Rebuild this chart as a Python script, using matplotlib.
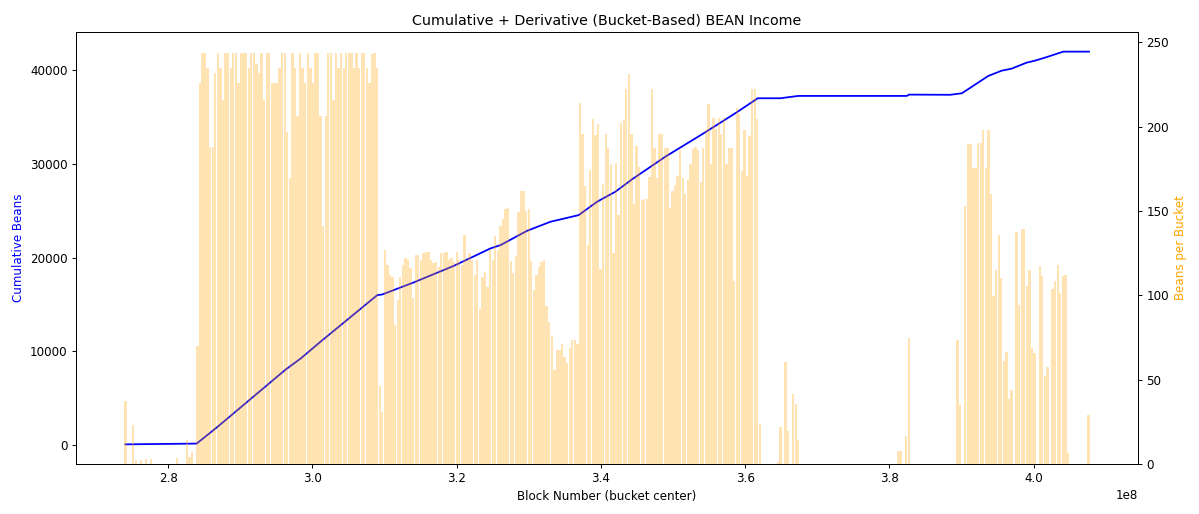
import numpy as np
import matplotlib
matplotlib.use("Agg")
import matplotlib.pyplot as plt

# Buckets of block numbers
bucket_start = 2.741e8   # center of first bucket
bucket_size = 3.56e5

# Beans per bucket (one value per bucket)
beans_per_bucket = (
    [37.6, 0, 0, 23, 2.4, 0, 2.4, 0, 3, 0, 3, 0, 0, 0, 0, 0, 0, 0, 0, 0,
     3.5, 0, 0, 0, 14, 4.4, 7.3, 0, 70, 226]
    + [244, 244, 235, 188, 188, 232, 244, 235, 216, 244, 244, 235, 244, 244,
       226, 244, 244, 244, 235, 244, 244, 237, 232, 244, 216, 244, 244, 226,
       226, 226, 235, 244, 244]
    + [197, 169.6, 244, 235, 206.6, 244, 235, 226, 244, 235, 226, 244, 244,
       206.6, 141, 206.6, 244, 244, 216, 244, 235, 244, 235, 244, 244, 244,
       235, 244, 235, 244, 244, 235, 226, 243, 244, 235]
    + [46, 31, 126.7, 118, 112, 111, 82.5, 97, 111, 118, 122, 121, 116.5,
       98.5, 124, 124, 121, 125, 125.7, 125.7, 121, 119, 120, 117, 125, 125,
       125.7, 121]
    + [122, 120, 126, 121, 118, 136, 121, 125, 121, 112, 121, 91.8, 111, 114,
       105, 126.7, 121, 135, 127, 141, 145, 151.4, 151.7, 120.5, 113, 123.5,
       149.6, 162, 162, 149.8, 151, 120.5, 103, 112, 116.8, 120, 121, 93.4,
       84, 76, 55.8, 67.7, 67.7, 71.3, 63.7, 59.8, 68.7, 73.6, 73.3, 71.3,
       213.8, 195.8, 164.7, 130, 174.6, 204.7, 195.4, 201.9, 115.6, 166,
       195.8, 187.5, 178, 125]
    + [178.5, 147.9, 202, 204, 222.5, 231.4, 195.8, 154.2, 188.8, 176, 156.8,
       157, 157, 170, 222.5, 187.5, 169.6, 195.8, 195.8, 187.5, 187.5, 151.8,
       161.7, 165.7, 171, 186.5, 169.6, 160.3, 168.2, 177.8, 186.9, 188, 186,
       167, 187.5, 198.3, 213.7, 178.1, 205.3, 198.6, 205.1, 196, 205.3,
       177.8, 187.5, 187.5, 108.3, 211.2, 207.8, 173.6, 198.3, 171, 194.8,
       222.5, 222.5, 204.7]
    + [23.8, 0, 0, 0, 0, 0, 0, 1, 21.8, 0, 60.2, 19.8, 0, 41.6, 35.6, 14.3]
    + [0] * 38
    + [7.9, 7.9, 0, 16.6, 74.6]
    + [0] * 18
    + [73.6, 35, 0, 152.8, 190, 190, 175.6, 175.6, 190.3, 190.3, 198.3, 175.3,
       198.3, 160.1, 99.4, 115.2, 136, 110.3, 60.8, 66.7, 38.6, 43.9, 0,
       137.4, 94.4, 139.4, 139.4, 105.7, 114.8, 68.7, 65.7, 0, 117.2, 111.6,
       52.3, 57.8, 0, 103.7, 108.3, 118.2, 101.3, 111.6, 112.2, 6.3]
    + [0] * 7
    + [29.1]
)

# Cumulative beans
cum_blocks = [2.741e8, 2.8397e8, 2.8684e8, 2.9630e8, 2.9838e8, 3.0139e8,
              3.0208e8, 3.0900e8, 3.0970e8, 3.1407e8, 3.1961e8, 3.2470e8,
              3.2608e8, 3.2978e8, 3.3301e8, 3.3693e8, 3.3947e8, 3.4201e8,
              3.4432e8, 3.4893e8, 3.5402e8, 3.5863e8, 3.6175e8, 3.6486e8,
              3.6735e8, 3.8241e8, 3.8273e8, 3.8841e8, 3.9003e8, 3.9371e8,
              3.9556e8, 3.9695e8, 3.9903e8, 4.0018e8, 4.0156e8, 4.0410e8,
              4.0766e8]
cum_beans = [100, 180, 1950, 8070, 9240, 11200, 11630, 16000, 16070, 17360,
             19120, 20980, 21330, 22860, 23820, 24530, 25950, 27020, 28340,
             30750, 33140, 35380, 36980, 36980, 37230, 37230, 37370, 37350,
             37510, 39360, 39920, 40140, 40780, 40990, 41310, 41950, 41950]

centers = bucket_start + bucket_size * np.arange(len(beans_per_bucket))

# 14x6 inch figure, scaled down to 1199x514 px
fig, ax1 = plt.subplots(figsize=(14, 6.002), dpi=85.643)
fig.subplots_adjust(left=0.0634, right=0.9491, top=0.9377, bottom=0.0973)

# Cumulative line
ax1.plot(cum_blocks, cum_beans, color='blue', linewidth=1.5)
ax1.set_xlabel('Block Number (bucket center)')
ax1.set_ylabel('Cumulative Beans', color='blue')

# Derivative bars on the twin axis
ax2 = ax1.twinx()
ax2.bar(centers, beans_per_bucket, width=bucket_size * 0.9,
        color='orange', alpha=0.3)
ax2.set_ylabel('Beans per Bucket', color='orange')

plt.title('Cumulative + Derivative (Bucket-Based) BEAN Income')
plt.savefig('out.png')
